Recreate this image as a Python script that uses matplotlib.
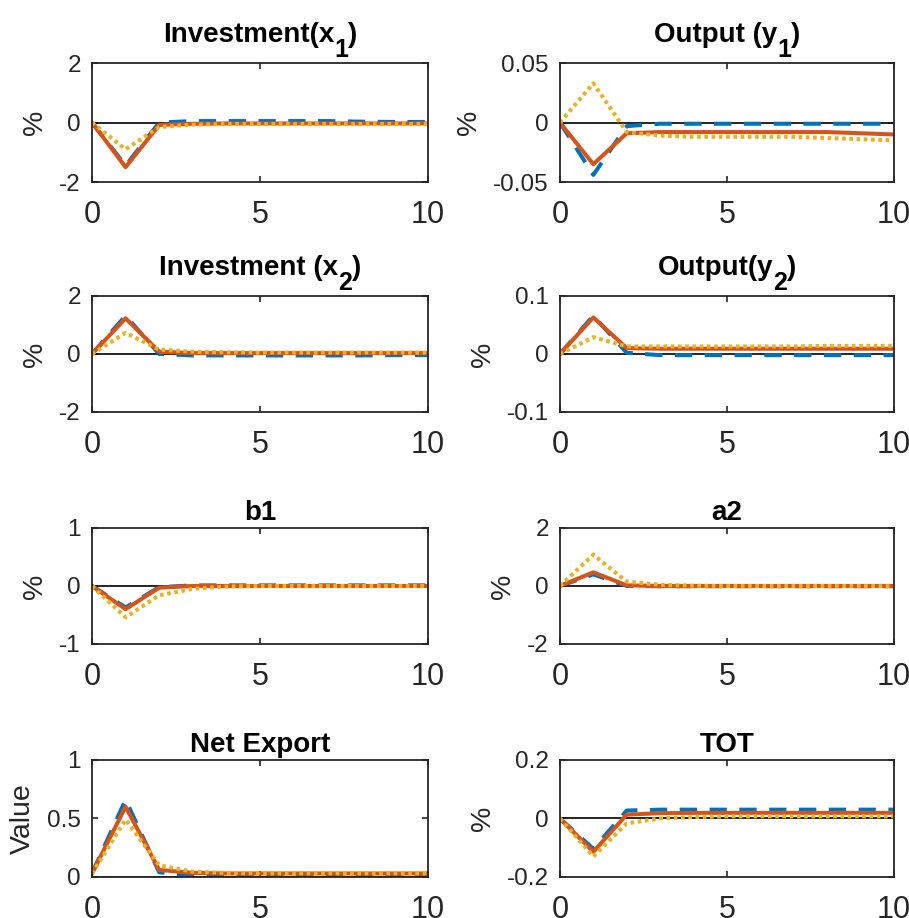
import matplotlib
matplotlib.use('Agg')
import matplotlib.pyplot as plt
from matplotlib.transforms import offset_copy
import numpy as np

plt.rcParams['font.family'] = ['Liberation Sans', 'DejaVu Sans']

t = np.arange(0, 11)

# title pieces: main text, subscript, closing text
titles = [('Investment(x', '1', ')'), ('Output (y', '1', ')'),
          ('Investment (x', '2', ')'), ('Output(y', '2', ')'),
          ('b1', '', ''), ('a2', '', ''), ('Net Export', '', ''), ('TOT', '', '')]
ylabels = ['%', '%', '%', '%', '%', '%', 'Value', '%']
ylims = [(-2, 2), (-0.05, 0.05), (-2, 2), (-0.1, 0.1),
         (-1, 1), (-2, 2), (0, 1), (-0.2, 0.2)]
yticks = [[-2, 0, 2], [-0.05, 0, 0.05], [-2, 0, 2], [-0.1, 0, 0.1],
          [-1, 0, 1], [-2, 0, 2], [0, 0.5, 1], [-0.2, 0, 0.2]]
yticklabels = [['-2', '0', '2'], ['-0.05', '0', '0.05'], ['-2', '0', '2'],
               ['-0.1', '0', '0.1'], ['-1', '0', '1'], ['-2', '0', '2'],
               ['0', '0.5', '1'], ['-0.2', '0', '0.2']]

# three model variants per variable (dashed blue, solid orange, dotted yellow)
x1_a = [0, -1.45, 0.0, 0.05, 0.05, 0.05, 0.05, 0.05, 0.03, 0.02, 0.02]
x1_b = [0, -1.5, -0.08, -0.04, -0.03, -0.03, -0.03, -0.03, -0.03, -0.03, -0.03]
x1_c = [0, -0.9, -0.15, -0.07, -0.05, -0.05, -0.05, -0.05, -0.05, -0.05, -0.05]

y1_a = [0, -0.044, -0.003, -0.001, -0.001, -0.001, -0.001, -0.001, -0.001, -0.001, -0.001]
y1_b = [0, -0.035, -0.009, -0.008, -0.008, -0.008, -0.008, -0.008, -0.008, -0.009, -0.010]
y1_c = [0, 0.033, -0.008, -0.011, -0.012, -0.012, -0.012, -0.012, -0.013, -0.014, -0.015]

x2_a = [0, 1.32, 0.0, -0.05, -0.05, -0.05, -0.05, -0.05, -0.05, -0.04, -0.04]
x2_b = [0, 1.23, 0.08, 0.03, 0.03, 0.03, 0.03, 0.03, 0.03, 0.03, 0.03]
x2_c = [0, 0.73, 0.15, 0.08, 0.06, 0.05, 0.05, 0.05, 0.05, 0.05, 0.05]

y2_a = [0, 0.066, 0.002, -0.002, -0.002, -0.002, -0.002, -0.002, -0.002, -0.002, -0.002]
y2_b = [0, 0.063, 0.010, 0.009, 0.009, 0.009, 0.009, 0.009, 0.009, 0.009, 0.009]
y2_c = [0, 0.029, 0.013, 0.013, 0.013, 0.013, 0.013, 0.013, 0.014, 0.014, 0.014]

b1_a = [0, -0.37, -0.02, 0.01, 0.01, 0.01, 0.01, 0.01, 0.01, 0.01, 0.01]
b1_b = [0, -0.40, -0.03, 0.0, 0.0, 0.0, 0.0, 0.0, 0.0, 0.0, 0.0]
b1_c = [0, -0.54, -0.16, -0.05, -0.01, 0.0, 0.0, 0.0, 0.0, 0.0, 0.0]

a2_a = [0, 0.40, 0.0, -0.01, -0.01, -0.01, -0.01, -0.01, -0.01, -0.01, -0.01]
a2_b = [0, 0.47, 0.02, 0.0, 0.0, 0.0, 0.0, 0.0, 0.0, 0.0, 0.0]
a2_c = [0, 1.08, 0.15, 0.04, 0.01, 0.0, 0.0, 0.0, 0.0, 0.0, 0.0]

nx_a = [0.03, 0.66, 0.04, 0.01, 0.01, 0.01, 0.01, 0.01, 0.01, 0.01, 0.01]
nx_b = [0.03, 0.60, 0.06, 0.035, 0.03, 0.03, 0.03, 0.03, 0.03, 0.03, 0.03]
nx_c = [0.03, 0.49, 0.10, 0.045, 0.035, 0.03, 0.03, 0.03, 0.03, 0.03, 0.03]

tot_a = [0, -0.104, 0.027, 0.03, 0.03, 0.03, 0.03, 0.03, 0.03, 0.03, 0.03]
tot_b = [0, -0.114, 0.013, 0.018, 0.019, 0.019, 0.019, 0.019, 0.019, 0.019, 0.019]
tot_c = [0, -0.13, -0.017, 0.0, 0.005, 0.007, 0.007, 0.007, 0.007, 0.007, 0.007]

series = [(x1_a, x1_b, x1_c), (y1_a, y1_b, y1_c), (x2_a, x2_b, x2_c),
          (y2_a, y2_b, y2_c), (b1_a, b1_b, b1_c), (a2_a, a2_b, a2_c),
          (nx_a, nx_b, nx_c), (tot_a, tot_b, tot_c)]

blue = '#0072BD'
orange = '#D95319'
yellow = '#EDB120'
grey = '#262626'

fig = plt.figure(figsize=(9.09, 9.18), dpi=100)
renderer = fig.canvas.get_renderer()

lefts = [0.1012, 0.616]
widths = [0.3696, 0.3674]
bottoms = [0.8017, 0.5512, 0.2985, 0.0447]
heights = [0.1296, 0.1264, 0.1264, 0.1275]


def put_title(ax, main, sub, tail):
    kw = dict(fontsize=20, fontweight='bold', color='k', va='baseline', ha='left')
    if not sub:
        ax.set_title(main, fontsize=20, fontweight='bold', pad=6)
        return
    # baseline raised so the dropped subscript clears the box
    parts = [(main, 0, 20), (sub, -15, 18), (tail, 0, 20)]
    texts = []
    for s, dy, fs in parts:
        kw['fontsize'] = fs
        txt = ax.text(0.5, 1, s, transform=ax.transAxes, **kw)
        texts.append((txt, dy))
    ws = [txt.get_window_extent(renderer).width for txt, _ in texts]
    x = -sum(ws) / 2
    for (txt, dy), w in zip(texts, ws):
        txt.set_transform(offset_copy(ax.transAxes, fig=fig, x=x, y=21 + dy, units='dots'))
        x += w


for i in range(8):
    r, c = i // 2, i % 2
    ax = fig.add_axes([lefts[c], bottoms[r], widths[c], heights[r]])
    a, b, d = series[i]
    ax.plot(t, np.zeros_like(t), color='k', lw=1.2)
    ax.plot(t, a, color=blue, lw=2.9, dashes=(4.3, 3.1))
    ax.plot(t, b, color=orange, lw=2.9)
    ax.plot(t, d, color=yellow, lw=2.9, dashes=(0.9, 0.9))
    ax.set_xlim(0, 10)
    ax.set_ylim(*ylims[i])
    ax.set_xticks([0, 5, 10])
    ax.set_yticks(yticks[i])
    ax.set_yticklabels(yticklabels[i])
    ax.tick_params(direction='in', length=4, width=1.2, colors=grey,
                   top=True, right=True)
    ax.tick_params(axis='y', labelsize=17.5, pad=8)
    ax.tick_params(axis='x', labelsize=22, pad=13)
    for s in ax.spines.values():
        s.set_color(grey)
        s.set_linewidth(1.3)
    put_title(ax, *titles[i])
    ax.set_ylabel(ylabels[i], fontsize=20.5, color=grey, labelpad=8)

fig.savefig('out.png', dpi=100)
